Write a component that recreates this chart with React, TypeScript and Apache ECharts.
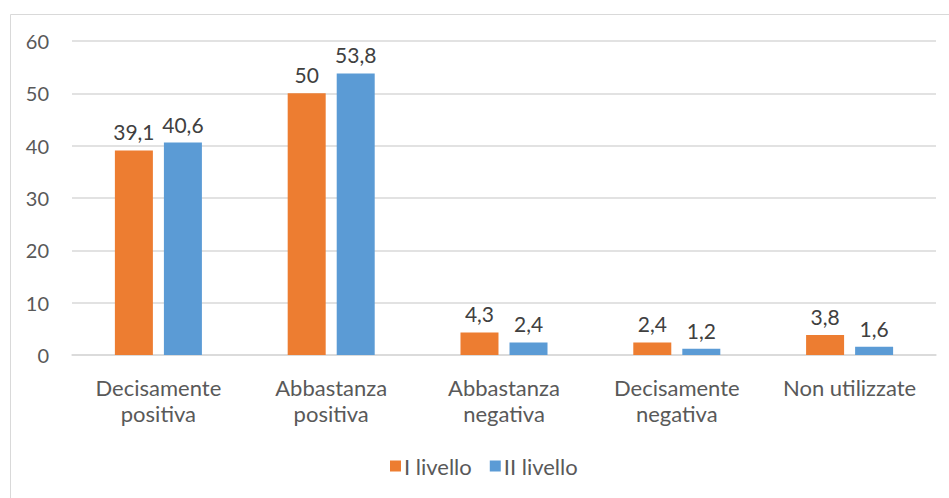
import React, { useEffect, useRef } from "react";
import * as echarts from "echarts";

const categories = [
  "Decisamente\npositiva",
  "Abbastanza\npositiva",
  "Abbastanza\nnegativa",
  "Decisamente\nnegativa",
  "Non utilizzate",
];
const seriesNames = ["I livello", "II livello"];
const livello1 = [39.1, 50, 4.3, 2.4, 3.8];
const livello2 = [40.6, 53.8, 2.4, 1.2, 1.6];
const colors = ["#ED7D31", "#5B9BD5"];

const FONT = "Lato, 'Open Sans', sans-serif";

export default function App() {
  const ref = useRef<HTMLDivElement>(null);
  useEffect(() => {
    const chart = echarts.init(ref.current!, undefined, { renderer: "svg" });
    const labelFmt = (p: any) => String(p.value).replace(".", ",");
    const lbl = {
      show: true,
      position: "top",
      distance: 8,
      formatter: labelFmt,
      fontFamily: FONT,
      fontSize: 21,
      color: "#404040",
    };
    chart.setOption({
      animation: false,
      textStyle: { fontFamily: FONT },
      graphic: [
        {
          type: "rect",
          left: 8,
          top: 12,
          shape: { width: 1000, height: 600 },
          style: { fill: "none", stroke: "#d9d9d9", lineWidth: 1 },
          silent: true,
        },
      ],
      legend: {
        data: seriesNames,
        bottom: 16,
        left: 385,
        itemWidth: 11,
        itemHeight: 11,
        itemGap: 18,
        icon: "rect",
        textStyle: { fontFamily: FONT, fontSize: 22, color: "#595959", padding: [0, 0, 0, -2] },
      },
      grid: { left: 72, right: 13, top: 41, bottom: 143 },
      xAxis: {
        type: "category",
        data: categories,
        axisTick: { show: false },
        axisLine: { lineStyle: { color: "#d9d9d9", width: 1.5 } },
        axisLabel: {
          fontFamily: FONT,
          fontSize: 22,
          color: "#595959",
          margin: 19,
          lineHeight: 26,
          interval: 0,
        },
      },
      yAxis: {
        type: "value",
        min: 0,
        max: 60,
        interval: 10,
        axisLine: { show: false },
        axisTick: { show: false },
        splitLine: { lineStyle: { color: "#d9d9d9", width: 1.5 } },
        axisLabel: { fontFamily: FONT, fontSize: 20, color: "#595959", margin: 23 },
      },
      series: [
        {
          name: seriesNames[0],
          type: "bar",
          data: livello1,
          itemStyle: { color: colors[0] },
          barWidth: 38,
          barGap: "29%",
          label: lbl,
        },
        {
          name: seriesNames[1],
          type: "bar",
          data: livello2,
          itemStyle: { color: colors[1] },
          barWidth: 38,
          barGap: "29%",
          label: lbl,
        },
      ],
    });
    return () => chart.dispose();
  }, []);
  return <div ref={ref} style={{ width: 949, height: 498, position: "absolute", left: 0, top: 0 }} />;
}
